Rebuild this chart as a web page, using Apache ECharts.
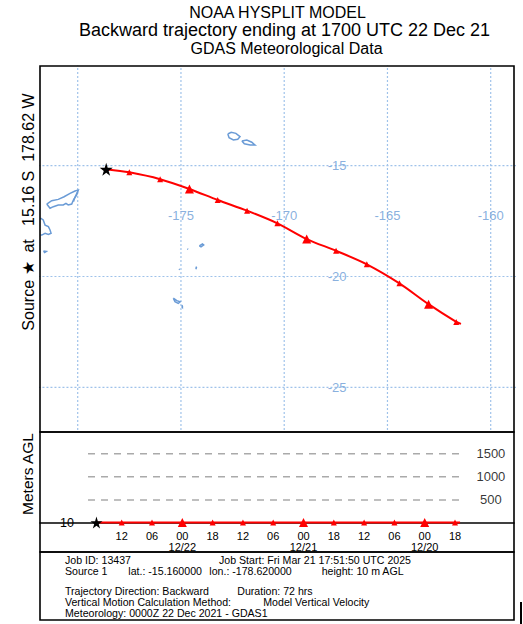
<!DOCTYPE html>
<html>
<head>
<meta charset="utf-8">
<script src="https://cdn.jsdelivr.net/npm/echarts@6/dist/echarts.min.js"></script>
<style>
html,body{margin:0;padding:0;background:#fff;}
#chart{width:523px;height:624px;}
</style>
</head>
<body>
<div id="chart"></div>
<script>
// ---- data ----
const trajHoursBack = [0, 5, 11, 17, 23, 29, 35, 41, 47, 53, 59, 65, 71, 72];
const trajLon = [-178.62, -177.50, -176.01, -174.59, -173.22, -171.80, -170.33, -168.91, -167.49, -166.00, -164.42, -163.01, -161.67, -161.44];
const trajLat = [-15.16, -15.30, -15.61, -16.05, -16.55, -17.03, -17.60, -18.31, -18.84, -19.45, -20.31, -21.25, -22.05, -22.14];
const trajHeight = [10, 10, 10, 10, 10, 10, 10, 10, 10, 10, 10, 10, 10, 10];
const trajUTC = ['17', '12', '06', '00', '18', '12', '06', '00', '18', '12', '06', '00', '18', '17'];

const tickHours = [5, 11, 17, 23, 29, 35, 41, 47, 53, 59, 65, 71];
const tickLabels = ['12', '06', '00\n12/22', '18', '12', '06', '00\n12/21', '18', '12', '06', '00\n12/20', '18'];
const levelValues = [500, 1000, 1500];
const startHeight = [10];

const gridLons = [-180, -175, -170, -165, -160];
const gridLats = [-15, -20, -25];
const lonLabels = [-175, -170, -165, -160];
const latLabels = [-15, -20, -25];

// coastlines (lon, lat)
const vanuaLevu = [[-181.50,-16.73],[-181.26,-16.58],[-180.94,-16.52],[-180.66,-16.40],[-180.37,-16.25],[-180.13,-16.14],[-179.97,-16.10],[-180.05,-16.32],[-180.21,-16.55],[-180.29,-16.73],[-180.46,-16.77],[-180.57,-16.70],[-180.70,-16.77],[-180.94,-16.77],[-181.18,-16.85],[-181.34,-16.92],[-181.50,-16.73]];
const taveuni = [[-180.02,-16.20],[-180.16,-16.48],[-180.20,-16.62]];
const vitiLevu = [[-181.80,-17.37],[-181.67,-17.45],[-181.58,-17.68],[-181.42,-17.75],[-181.34,-17.90],[-181.29,-18.05],[-181.42,-18.10],[-181.58,-18.05],[-181.74,-18.13],[-181.80,-18.13]];
const kadavu = [[-181.66,-18.85],[-181.52,-18.87],[-181.60,-18.92],[-181.66,-18.85]];
const savaii = [[-172.73,-13.57],[-172.57,-13.49],[-172.34,-13.54],[-172.14,-13.69],[-172.25,-13.81],[-172.46,-13.84],[-172.67,-13.74],[-172.73,-13.57]];
const upolu = [[-172.05,-13.89],[-171.81,-13.84],[-171.57,-13.94],[-171.41,-14.07],[-171.65,-14.07],[-171.93,-14.01],[-172.05,-13.89]];
const vavau = [[-174.11,-18.62],[-173.96,-18.53],[-173.90,-18.58],[-174.03,-18.66],[-174.11,-18.62]];
const lateIsl = [[-174.69,-18.75],[-174.65,-18.77],[-174.69,-18.75]];
const haapai = [[-174.28,-19.55],[-174.25,-19.60],[-174.28,-19.67]];
const tofua = [[-175.10,-19.67],[-175.06,-19.69],[-175.10,-19.67]];
const tongatapu = [[-175.37,-20.98],[-175.20,-21.09],[-175.04,-21.14],[-175.13,-21.21],[-175.29,-21.14],[-175.37,-20.98]];
const eua = [[-174.96,-21.29],[-174.93,-21.34],[-174.93,-21.39],[-174.97,-21.35]];
const coasts = [vanuaLevu, taveuni, vitiLevu, kadavu, savaii, upolu, vavau, lateIsl, haapai, tofua, tongatapu, eua];

// ---- styling ----
const FONT = "'Liberation Sans', Arial, Helvetica, sans-serif";
const MAP_BLUE = '#6a9bd6';
const GRID_BLUE = '#9fc2ea';
const RED = '#ff0000';
const STAR = 'path://M50,0 L61,35 L98,35 L68,57 L79,91 L50,70 L21,91 L32,57 L2,35 L39,35 Z';

function markerItem(value, i, small, big, starSize) {
  if (i === 0) return { value, symbol: STAR, symbolSize: starSize, itemStyle: { color: '#000' }, z: 10 };
  if (i === trajHoursBack.length - 1) return { value, symbol: 'none' };
  const isMidnight = trajUTC[i] === '00';
  return { value, symbol: 'triangle', symbolSize: isMidnight ? big : small, itemStyle: { color: RED } };
}

const series = [];

// map grid lines
gridLons.forEach(lon => series.push({
  type: 'line', xAxisIndex: 0, yAxisIndex: 0, silent: true, symbol: 'none', clip: true,
  data: [[lon, -30], [lon, -8]],
  lineStyle: { color: GRID_BLUE, width: 1.2, type: [2, 2] }, z: 1
}));
gridLats.forEach(lat => series.push({
  type: 'line', xAxisIndex: 0, yAxisIndex: 0, silent: true, symbol: 'none', clip: true,
  data: [[-185, lat], [-155, lat]],
  lineStyle: { color: GRID_BLUE, width: 1.2, type: [2, 2] }, z: 1
}));

// coastlines as polylines
series.push({
  type: 'lines', coordinateSystem: 'cartesian2d', xAxisIndex: 0, yAxisIndex: 0,
  polyline: true, silent: true,
  data: coasts.map(c => ({ coords: c })),
  lineStyle: { color: MAP_BLUE, width: 1.5, opacity: 1 }, z: 2
});

// lon / lat labels inside the map
series.push({
  type: 'scatter', xAxisIndex: 0, yAxisIndex: 0, symbolSize: 0, silent: true,
  data: lonLabels.map(v => [v, -17.26]),
  label: { show: true, position: 'inside', formatter: p => String(p.value[0]), color: MAP_BLUE, fontSize: 13, fontFamily: FONT }, z: 3
});
series.push({
  type: 'scatter', xAxisIndex: 0, yAxisIndex: 0, symbolSize: 0, silent: true,
  data: latLabels.map(v => [-167.44, v]),
  label: { show: true, position: 'inside', formatter: p => String(p.value[1]), color: MAP_BLUE, fontSize: 13, fontFamily: FONT }, z: 3
});

// trajectory on the map
series.push({
  type: 'line', xAxisIndex: 0, yAxisIndex: 0, smooth: 0.3,
  data: trajLon.map((lon, i) => markerItem([lon, trajLat[i]], i, 6, 9, 13)),
  lineStyle: { color: RED, width: 2 }, itemStyle: { color: RED }, z: 5
});

// height panel: dashed level lines
levelValues.forEach(v => series.push({
  type: 'line', xAxisIndex: 1, yAxisIndex: 1, symbol: 'none', silent: true,
  data: [[-1.67, v], [72, v]],
  lineStyle: { color: '#aaaaaa', width: 1.5, type: [7, 6] }, z: 1
}));
series.push({
  type: 'scatter', xAxisIndex: 1, yAxisIndex: 1, symbolSize: 0, silent: true,
  data: levelValues.map(v => [78.1, v]),
  label: { show: true, position: 'inside', formatter: p => String(p.value[1]), color: '#000', fontSize: 13, fontFamily: FONT }
});

// height panel: trajectory
series.push({
  type: 'line', xAxisIndex: 1, yAxisIndex: 1,
  data: trajHoursBack.map((h, i) => markerItem([h, trajHeight[i]], i, 6, 9, 12)),
  lineStyle: { color: RED, width: 2 }, itemStyle: { color: RED }, z: 5
});

const infoLines = [
  { t: 'Job ID: 13437', x: 65, y: 559.5 },
  { t: 'Job Start: Fri Mar 21 17:51:50 UTC 2025', x: 219, y: 559.5 },
  { t: 'Source 1', x: 65, y: 570.7 },
  { t: 'lat.: -15.160000', x: 128.3, y: 570.7 },
  { t: 'lon.: -178.620000', x: 209.3, y: 570.7 },
  { t: 'height: 10 m AGL', x: 321.7, y: 570.7 },
  { t: 'Trajectory Direction: Backward', x: 65, y: 591.4 },
  { t: 'Duration: 72 hrs', x: 237.3, y: 591.4 },
  { t: 'Vertical Motion Calculation Method:', x: 65, y: 602.2 },
  { t: 'Model Vertical Velocity', x: 263.3, y: 602.2 },
  { t: 'Meteorology: 0000Z 22 Dec 2021 - GDAS1', x: 65, y: 613.0 }
];

const graphic = [
  { type: 'text', style: { text: 'NOAA HYSPLIT MODEL', x: 277.5, y: 12, align: 'center', verticalAlign: 'middle', fontSize: 16, fontFamily: FONT, fill: '#000' } },
  { type: 'text', style: { text: 'Backward trajectory ending at 1700 UTC 22 Dec 21', x: 284.5, y: 29.5, align: 'center', verticalAlign: 'middle', fontSize: 18, fontFamily: FONT, fill: '#000' } },
  { type: 'text', style: { text: 'GDAS Meteorological Data', x: 286.5, y: 48.5, align: 'center', verticalAlign: 'middle', fontSize: 16, fontFamily: FONT, fill: '#000' } },
  { type: 'text', x: 28, y: 212, rotation: Math.PI / 2, style: { text: 'Source \u2605\u00a0\u00a0at\u00a0\u00a0 15.16 S\u00a0\u00a0178.62 W', x: 0, y: 0, align: 'center', verticalAlign: 'middle', fontSize: 16, fontFamily: FONT, fill: '#000' } },
  { type: 'text', x: 27, y: 474, rotation: Math.PI / 2, style: { text: 'Meters AGL', x: 0, y: 0, align: 'center', verticalAlign: 'middle', fontSize: 15.5, fontFamily: FONT, fill: '#000' } },
  { type: 'rect', shape: { x: 40, y: 66, width: 474, height: 366 }, style: { fill: 'none', stroke: '#000', lineWidth: 1.6 }, z: 100 },
  { type: 'rect', shape: { x: 40, y: 432, width: 474, height: 120 }, style: { fill: 'none', stroke: '#000', lineWidth: 1.6 }, z: 100 },
  { type: 'rect', shape: { x: 40, y: 552, width: 474, height: 68 }, style: { fill: 'none', stroke: '#000', lineWidth: 1.6 }, z: 100 },
  { type: 'line', shape: { x1: 521, y1: 602, x2: 521, y2: 624 }, style: { stroke: '#000', lineWidth: 2 }, z: 100 }
].concat(infoLines.map(l => ({
  type: 'text', style: { text: l.t, x: l.x, y: l.y, align: 'left', verticalAlign: 'middle', fontSize: 10.6, fontFamily: FONT, lineHeight: 9.5, fill: '#000' }
})));

const option = {
  animation: false,
  backgroundColor: '#fff',
  textStyle: { fontFamily: FONT },
  grid: [
    { left: 40, top: 66, width: 474, height: 366 },
    { left: 40, top: 432, width: 474, height: 91 }
  ],
  xAxis: [
    { gridIndex: 0, type: 'value', min: -181.826, max: -158.872, show: false },
    {
      gridIndex: 1, type: 'value', min: -11.18, max: 82.68,
      axisLine: { show: true, onZero: false, lineStyle: { color: '#000', width: 1.6 } },
      axisTick: { show: false }, splitLine: { show: false },
      axisLabel: {
        customValues: tickHours,
        formatter: v => { const i = tickHours.indexOf(v); return i >= 0 ? tickLabels[i] : ''; },
        color: '#000', fontSize: 11, lineHeight: 11, margin: 7, fontFamily: FONT
      }
    }
  ],
  yAxis: [
    { gridIndex: 0, type: 'value', min: -27.017, max: -10.501, show: false },
    {
      gridIndex: 1, type: 'value', min: 0, max: 1972,
      axisLine: { show: false }, axisTick: { show: false }, splitLine: { show: false },
      axisLabel: { customValues: startHeight, inside: true, margin: 20, color: '#000', fontSize: 12.5, fontFamily: FONT }
    }
  ],
  series,
  graphic
};

const chart = echarts.init(document.getElementById('chart'), null, { renderer: 'svg' });
chart.setOption(option);
</script>
</body>
</html>
